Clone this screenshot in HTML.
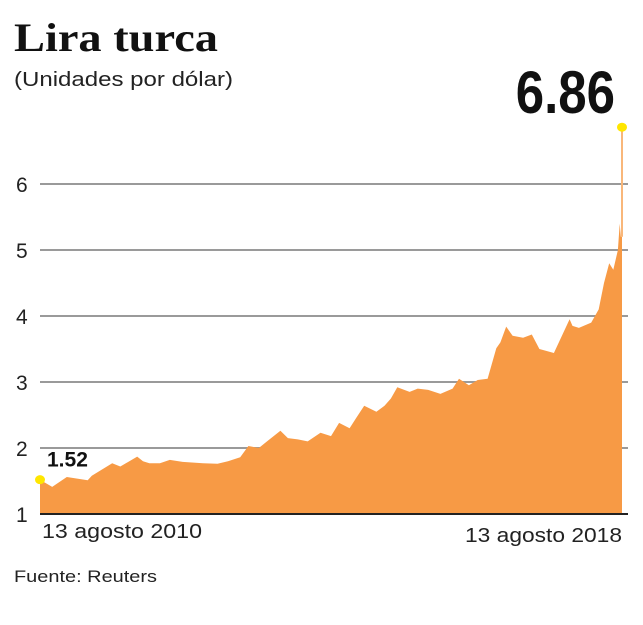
<!DOCTYPE html>
<html><head><meta charset="utf-8"><style>
body{margin:0;background:#fff;width:643px;height:620px;overflow:hidden;font-family:"Liberation Sans",sans-serif}
</style></head><body>
<svg width="643" height="620" xmlns="http://www.w3.org/2000/svg">
<text x="14" y="51" font-family="Liberation Serif,serif" font-weight="bold" font-size="40" fill="#111" textLength="204" lengthAdjust="spacingAndGlyphs">Lira turca</text>
<text x="14" y="86" font-size="20" fill="#222" textLength="219" lengthAdjust="spacingAndGlyphs">(Unidades por dólar)</text>
<g id="grid"></g>
<g id="area"></g>
<text x="42" y="538" font-size="20" fill="#222" textLength="160" lengthAdjust="spacingAndGlyphs">13 agosto 2010</text>
<text x="465" y="542" font-size="20" fill="#222" textLength="157" lengthAdjust="spacingAndGlyphs">13 agosto 2018</text>
<text x="14" y="582" font-size="17" fill="#222" textLength="143" lengthAdjust="spacingAndGlyphs">Fuente: Reuters</text>
</svg>
<script>
const yTicks=[1,2,3,4,5,6];
const times=[0,0.021,0.046,0.082,0.089,0.124,0.138,0.167,0.177,0.188,0.206,0.223,0.245,0.28,0.305,0.323,0.344,0.358,0.376,0.39,0.413,0.426,0.443,0.46,0.482,0.5,0.514,0.532,0.543,0.557,0.578,0.592,0.603,0.614,0.635,0.649,0.667,0.688,0.709,0.72,0.737,0.752,0.769,0.784,0.791,0.801,0.812,0.83,0.845,0.858,0.883,0.91,0.915,0.926,0.947,0.96,0.969,0.978,0.985,0.993,0.996,0.998,1.0];
const values=[1.52,1.41,1.56,1.51,1.58,1.77,1.72,1.87,1.8,1.77,1.77,1.82,1.79,1.77,1.76,1.8,1.86,2.03,2.0,2.1,2.26,2.15,2.13,2.1,2.23,2.18,2.38,2.3,2.45,2.64,2.55,2.64,2.75,2.92,2.85,2.9,2.88,2.82,2.9,3.05,2.95,3.03,3.05,3.51,3.6,3.84,3.7,3.67,3.72,3.5,3.44,3.95,3.85,3.82,3.9,4.1,4.5,4.8,4.7,5.0,5.4,5.2,6.86];
const startLabel="1.52", endLabel="6.86";
const X0=40,X1=622,Y1=514,U=66;
const xs=t=>X0+t*(X1-X0), ys=v=>Y1-(v-1)*U;
const NS="http://www.w3.org/2000/svg";
const grid=document.getElementById('grid'),area=document.getElementById('area');
function mk(tag,attrs,parent){const e=document.createElementNS(NS,tag);for(const k in attrs)e.setAttribute(k,attrs[k]);parent.appendChild(e);return e;}
yTicks.forEach(v=>{
  if(v>1){const l=mk('line',{x1:40,x2:628,y1:ys(v),y2:ys(v),stroke:'#9a9a9a','stroke-width':2},grid);
  
  }
  const t=mk('text',{x:16,y:ys(v)+8,'font-size':21,fill:'#222'},grid);t.textContent=v;
  
  
});
let d='M'+xs(times[0])+','+Y1;
for(let i=0;i<times.length-1;i++)d+=' L'+xs(times[i]).toFixed(1)+','+ys(values[i]).toFixed(1);
d+=' L'+xs(times[times.length-1])+','+ys(values[values.length-2]).toFixed(1)+' L'+xs(times[times.length-1])+','+Y1+'Z';
const p=mk('path',{d:d,fill:'#f79a45'},area);


const n=values.length-1;
const sp=mk('line',{x1:xs(times[n]),x2:xs(times[n]),y1:ys(values[n-1]),y2:ys(values[n]),stroke:'#f9b77a','stroke-width':2},area);


const base=mk('line',{x1:40,x2:628,y1:Y1,y2:Y1,stroke:'#222','stroke-width':2},area);


const d0=mk('ellipse',{cx:xs(times[0]),cy:ys(values[0]),rx:5,ry:4.5,fill:'#ffe600'},area);


const d1=mk('ellipse',{cx:xs(times[n]),cy:ys(values[n]),rx:5,ry:4.5,fill:'#ffe600'},area);


const sl=mk('text',{x:47,y:ys(values[0])-13,'font-size':21,'font-weight':'bold',fill:'#111'},area);sl.textContent=startLabel;


const el=mk('text',{x:0,y:0,'font-size':60,'font-weight':'bold',fill:'#111','text-anchor':'end',transform:'translate(615,113) scale(0.85,1)'},area);el.textContent=endLabel;


</script>
</body></html>
